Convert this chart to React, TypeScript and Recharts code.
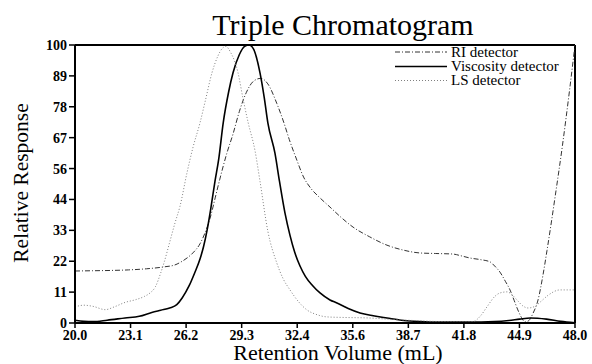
import React from 'react';
import { LineChart, Line, XAxis, YAxis, ReferenceLine } from 'recharts';

const xTicks = [20, 23.111, 26.222, 29.333, 32.444, 35.556, 38.667, 41.778, 44.889, 48];
const yTicks = [0, 11.11, 22.22, 33.33, 44.44, 55.56, 66.67, 77.78, 88.89, 100];

const seriesNames = ['RI detector', 'Viscosity detector', 'LS detector'];

const riDetector: [number, number][] = [
  [20.0, 18.7], [21.0, 18.8], [22.0, 18.9], [23.0, 19.1], [24.0, 19.5], [25.0, 20.2], [25.6, 20.9],
  [26.0, 22.2], [26.3, 23.5], [26.6, 25.2], [27.0, 28.5], [27.28, 32.4], [27.6, 38.5], [27.85, 45],
  [28.1, 51.5], [28.5, 61], [28.85, 68], [29.2, 76], [29.6, 83], [30.0, 87], [30.4, 88], [30.8, 86],
  [31.3, 79], [31.7, 72], [32.0, 66], [32.4, 59], [32.8, 52.5], [33.2, 48.5], [33.72, 45], [34.28, 41.7],
  [34.9, 38], [35.57, 34.5], [36.5, 31], [37.47, 28], [38.4, 26.2], [39.3, 25.2], [40.2, 25], [41.17, 24.8],
  [41.6, 24.2], [42.1, 23.4], [42.7, 22.8], [43.24, 22], [43.5, 20.5], [43.8, 18.3], [44.1, 15],
  [44.36, 11.9], [44.6, 8], [44.8, 4.7], [45.0, 2], [45.2, 0.4], [45.4, 0.8], [45.65, 3.5], [45.93, 8.3],
  [46.2, 17], [46.43, 26], [46.9, 46], [47.3, 64], [47.7, 84], [48.0, 100],
];

const viscosityDetector: [number, number][] = [
  [20.0, 1.0], [20.5, 0.6], [21.0, 0.5], [21.8, 1.0], [22.8, 1.8], [23.6, 2.4], [24.3, 3.8], [24.8, 4.6],
  [25.3, 5.4], [25.7, 6.6], [26.0, 9.0], [26.4, 13.5], [26.7, 18], [27.0, 23], [27.2, 27.5], [27.4, 33.5],
  [27.6, 41], [27.84, 51], [28.05, 59], [28.3, 72], [28.6, 83], [28.85, 90], [29.2, 96.5], [29.5, 99.5],
  [29.75, 100], [30.0, 98.5], [30.36, 90], [30.6, 81], [30.8, 72], [31.2, 61], [31.45, 51], [31.76, 39.5],
  [32.04, 31.5], [32.3, 25.5], [32.6, 20.5], [32.9, 16.8], [33.3, 13.5], [33.72, 10.8], [34.28, 8.3],
  [34.67, 7.2], [35.3, 5.2], [35.96, 3.6], [36.7, 2.6], [37.47, 1.8], [38.4, 0.9], [39.3, 0.5],
  [40.5, 0.3], [42.0, 0.3], [43.5, 0.5], [44.3, 0.9], [44.9, 1.4], [45.5, 1.8], [46.4, 1.4], [47.2, 0.6],
  [48.0, 0.1],
];

const lsDetector: [number, number][] = [
  [20.0, 5.8], [20.5, 6.4], [21.0, 6.0], [21.7, 4.8], [22.2, 5.8], [22.8, 7.4], [23.4, 8.4], [23.9, 9.6],
  [24.2, 10.8], [24.5, 13], [24.8, 18], [25.0, 22], [25.3, 29], [25.6, 36], [25.88, 42], [26.27, 54],
  [26.6, 63], [27.0, 72], [27.3, 80], [27.67, 90], [28.0, 96], [28.25, 98.8], [28.45, 99.5], [28.7, 97.5],
  [29.13, 90], [29.4, 81], [29.7, 72], [30.08, 62], [30.36, 51], [30.8, 33], [31.3, 21.6], [31.65, 16],
  [32.04, 11.9], [32.5, 7.8], [32.99, 4.7], [33.55, 3], [34.1, 2.2], [35.0, 2.0], [36.5, 1.8], [38.0, 1.2],
  [39.3, 0.8], [40.5, 0.5], [42.0, 0.4], [42.3, 0.5], [42.7, 2.5], [43.07, 5.8], [43.5, 9.5], [43.8, 10.8],
  [44.2, 11.2], [44.5, 10], [44.75, 8.3], [45.05, 6.3], [45.37, 5.4], [45.76, 6], [46.1, 7.8], [46.5, 10],
  [47.16, 11.9], [47.7, 11.9], [48.0, 11.9],
];

const toPoints = (arr: [number, number][]) => arr.map(([x, y]) => ({ x, y }));

const FONT = '"Liberation Serif", "Times New Roman", serif';

const styles = [
  { stroke: '#333', strokeWidth: 1, dash: '5 2 1 2' as string | undefined },
  { stroke: '#000', strokeWidth: 1.6, dash: undefined as string | undefined },
  { stroke: '#808080', strokeWidth: 1, dash: '1 2' as string | undefined },
];

export default function App() {
  const tickStyle = { fill: '#000', fontSize: 14, fontWeight: 'bold' as const, fontFamily: FONT };
  const legendRows = [52, 66.5, 80.5];
  return (
    <div
      style={{
        position: 'absolute',
        left: 0,
        top: 0,
        width: 592,
        height: 364,
        background: '#fff',
        fontFamily: FONT,
      }}
    >
      <LineChart width={592} height={364} margin={{ top: 45, right: 17, bottom: 11, left: 15 }}>
        <XAxis
          type="number"
          dataKey="x"
          domain={[20, 48]}
          ticks={xTicks}
          interval={0}
          allowDataOverflow
          tickFormatter={(v: number) => v.toFixed(1)}
          height={30}
          axisLine={{ stroke: '#000', strokeWidth: 2 }}
          tickLine={{ stroke: '#000', strokeWidth: 1.5 }}
          tickSize={5}
          tickMargin={2}
          tick={tickStyle}
        />
        <YAxis
          type="number"
          domain={[0, 100]}
          ticks={yTicks}
          interval={0}
          allowDataOverflow
          tickFormatter={(v: number) => String(Math.round(v))}
          width={60}
          axisLine={{ stroke: '#000', strokeWidth: 2 }}
          tickLine={{ stroke: '#000', strokeWidth: 1.5 }}
          tickSize={6}
          tickMargin={2}
          tick={tickStyle}
        />
        <ReferenceLine y={100} stroke="#000" strokeWidth={2} />
        <ReferenceLine x={48} stroke="#000" strokeWidth={2} />
        <Line
          data={toPoints(riDetector)}
          dataKey="y"
          name={seriesNames[0]}
          type="monotone"
          stroke={styles[0].stroke}
          strokeWidth={styles[0].strokeWidth}
          strokeDasharray={styles[0].dash}
          dot={false}
          activeDot={false}
          isAnimationActive={false}
        />
        <Line
          data={toPoints(viscosityDetector)}
          dataKey="y"
          name={seriesNames[1]}
          type="monotone"
          stroke={styles[1].stroke}
          strokeWidth={styles[1].strokeWidth}
          dot={false}
          activeDot={false}
          isAnimationActive={false}
        />
        <Line
          data={toPoints(lsDetector)}
          dataKey="y"
          name={seriesNames[2]}
          type="monotone"
          stroke={styles[2].stroke}
          strokeWidth={styles[2].strokeWidth}
          strokeDasharray={styles[2].dash}
          dot={false}
          activeDot={false}
          isAnimationActive={false}
        />
      </LineChart>
      <svg
        width={592}
        height={364}
        style={{ position: 'absolute', left: 0, top: 0, pointerEvents: 'none' }}
        fontFamily={FONT}
      >
        <text x={343} y={35} textAnchor="middle" fontSize={30} fill="#000">Triple Chromatogram</text>
        <text x={338} y={359.5} textAnchor="middle" fontSize={22} fill="#000">Retention Volume (mL)</text>
        <text transform="translate(28,183) rotate(-90)" textAnchor="middle" fontSize={21.5} fill="#000">
          Relative Response
        </text>
        {seriesNames.map((name, i) => (
          <g key={name}>
            <line
              x1={395}
              x2={447}
              y1={legendRows[i]}
              y2={legendRows[i]}
              stroke={styles[i].stroke}
              strokeWidth={styles[i].strokeWidth}
              strokeDasharray={styles[i].dash}
            />
            <text x={451} y={legendRows[i] + 4.5} fontSize={15} fill="#000">{name}</text>
          </g>
        ))}
      </svg>
    </div>
  );
}
